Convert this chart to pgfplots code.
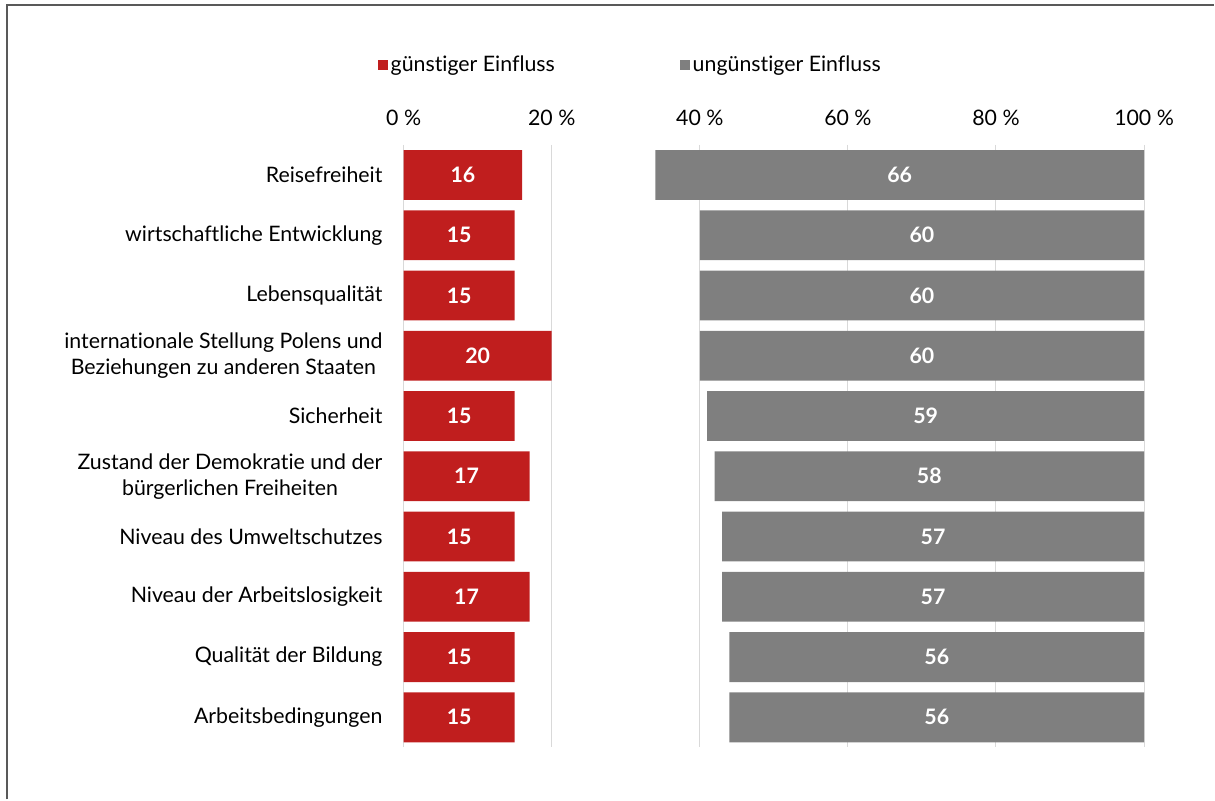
\documentclass[border=0pt]{standalone}
\usepackage{pgfplots}
\pgfplotsset{compat=1.18}
\usepackage{fontspec}
\setmainfont{Lato}[Ligatures=NoCommon]
\definecolor{barred}{RGB}{192,30,30}
\definecolor{bargrey}{RGB}{127,127,127}
\definecolor{gridgrey}{RGB}{217,217,217}
\definecolor{framegrey}{RGB}{89,89,89}
\begin{document}
\begin{tikzpicture}
\path (0pt,0pt) rectangle (911.25pt,600pt);
\draw[framegrey, line width=1.5pt] (5.25pt,0pt) -- (5.25pt,596.25pt) -- (911.25pt,596.25pt);
\begin{axis}[at={(303pt,39pt)}, anchor=south west, scale only axis,
  width=555.75pt, height=452.25pt,
  xmin=0, xmax=100, ymin=-0.5, ymax=9.5, y dir=reverse,
  xbar stacked, bar width=37.5pt,
  axis line style={draw=none}, tick style={draw=none},
  major tick length=0pt,
  xmajorgrids, grid style={gridgrey, line width=0.75pt},
  xtick={0,20,40,60,80,100}, xticklabel pos=upper,
  /pgf/number format/assume math mode=true,
  xticklabel={\pgfmathprintnumber{\tick}~\%},
  xticklabel style={font=\fontsize{16}{19}\selectfont, inner sep=0pt, yshift=14.5pt},
  ytick={0,1,2,3,4,5,6,7,8,9},
  yticklabels={Reisefreiheit, wirtschaftliche Entwicklung, Lebensqualität,
    {internationale Stellung Polens und\\Beziehungen zu anderen Staaten},
    Sicherheit,
    {Zustand der Demokratie und der\\bürgerlichen Freiheiten},
    Niveau des Umweltschutzes, Niveau der Arbeitslosigkeit,
    Qualität der Bildung, Arbeitsbedingungen},
  yticklabel style={font=\fontsize{16}{19.5}\selectfont, align=center, inner sep=0pt, xshift=-15.75pt},
  legend columns=2,
  legend style={at={(-0.035,1.1327)}, anchor=west, draw=none, fill=none, inner sep=0pt,
    font=\fontsize{16}{19}\selectfont,
    /tikz/every even column/.append style={column sep=92pt}},
  legend image code/.code={\fill[#1] (0pt,-3.75pt) rectangle (7.5pt,3.75pt);},
]
\addplot[fill=barred, draw=none] coordinates {(16,0) (15,1) (15,2) (20,3) (15,4) (17,5) (15,6) (17,7) (15,8) (15,9)};
\addplot[fill=none, draw=none, forget plot] coordinates {(18,0) (25,1) (25,2) (20,3) (26,4) (25,5) (28,6) (26,7) (29,8) (29,9)};
\addplot[fill=bargrey, draw=none] coordinates {(66,0) (60,1) (60,2) (60,3) (59,4) (58,5) (57,6) (57,7) (56,8) (56,9)};
\legend{günstiger Einfluss, ungünstiger Einfluss}
\end{axis}
\begin{axis}[at={(303pt,39pt)}, anchor=south west, scale only axis,
  width=555.75pt, height=452.25pt,
  xmin=0, xmax=100, ymin=-0.5, ymax=9.5, y dir=reverse,
  hide axis]
\addplot[only marks, mark=none, point meta=explicit symbolic, nodes near coords,
  nodes near coords style={anchor=center, text=white, font=\fontsize{16}{19}\selectfont\bfseries}]
  coordinates {(8,0)[16] (7.5,1)[15] (7.5,2)[15] (10,3)[20] (7.5,4)[15] (8.5,5)[17] (7.5,6)[15] (8.5,7)[17] (7.5,8)[15] (7.5,9)[15]};
\addplot[only marks, mark=none, point meta=explicit symbolic, nodes near coords,
  nodes near coords style={anchor=center, text=white, font=\fontsize{16}{19}\selectfont\bfseries}]
  coordinates {(67,0)[66] (70,1)[60] (70,2)[60] (70,3)[60] (70.5,4)[59] (71,5)[58] (71.5,6)[57] (71.5,7)[57] (72,8)[56] (72,9)[56]};
\end{axis}
\end{tikzpicture}
\end{document}
